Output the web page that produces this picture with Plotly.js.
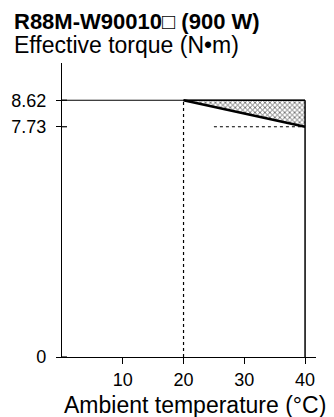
<!DOCTYPE html>
<html><head><meta charset="utf-8">
<script src="https://cdn.plot.ly/plotly-3.0.1.min.js"></script>
<style>html,body{margin:0;padding:0;background:#fff}</style>
</head><body><div id="chart" style="width:334px;height:417px"></div>
<script>
const temps = [20, 40];
const ratedTorque = [8.62, 8.62];
const deratedTorque = [8.62, 7.73];
const fullTemps = [0, 40];
const xTickVals = [10, 20, 30, 40];
const xTickText = ['10', '20', '30', '40'];
const yTickVals = [0, 7.73, 8.62];
const yTickText = ['0', '7.73', '8.62'];
const dottedX = [25, 40];
const limitTemp = 40;
const refTemp = 20;

const traces = [
  {x: temps, y: ratedTorque, mode: 'lines', line: {color: '#000', width: 1.5}, hoverinfo: 'skip'},
  {x: temps, y: deratedTorque, mode: 'lines', line: {color: '#000', width: 2.5}, fill: 'tonexty',
   fillcolor: 'rgba(0,0,0,0)', fillpattern: {shape: 'x', size: 3.5, solidity: 0.4, fgcolor: '#555', bgcolor: '#fff'}},
  {x: fullTemps, y: [ratedTorque[0], ratedTorque[0]], mode: 'lines', line: {color: '#000', width: 1.2}},
  {x: [limitTemp, limitTemp], y: [0, ratedTorque[0]], mode: 'lines', line: {color: '#000', width: 1.5}},
  {x: [refTemp, refTemp], y: [0, ratedTorque[0]], mode: 'lines', line: {color: '#000', width: 1.2, dash: 'dot'}},
  {x: dottedX, y: [deratedTorque[1], deratedTorque[1]], mode: 'lines', line: {color: '#000', width: 1.2, dash: 'dot'}}
];

const pw = 334 - 62 - 18, ph = 417 - 63 - 60;
function px(x) { return (x - 62) / pw; }
function py(y) { return (417 - 60 - y) / ph; }

const tickFont = {size: 18, family: 'Liberation Sans, Arial, sans-serif', color: '#000'};
const layout = {
  width: 334, height: 417,
  margin: {l: 62, r: 18, t: 63, b: 60},
  paper_bgcolor: '#fff', plot_bgcolor: '#fff',
  showlegend: false,
  font: {family: 'Liberation Sans, Arial, sans-serif', color: '#000'},
  xaxis: {range: [0, 41.8], tickvals: xTickVals, ticktext: xTickText, showgrid: false, zeroline: false,
    showline: true, linecolor: '#000', linewidth: 1.2, ticks: 'outside', ticklen: 6, tickcolor: '#000',
    tickfont: tickFont, ticklabelstandoff: 0, fixedrange: true},
  yaxis: {range: [0, 9.87], tickvals: yTickVals, ticktext: yTickText, showgrid: false, zeroline: false,
    showline: true, linecolor: '#000', linewidth: 1.2, ticks: 'outside', ticklen: 5, tickcolor: '#000',
    tickfont: tickFont, ticklabelstandoff: 6, fixedrange: true},
  shapes: yTickVals.map(v => ({type: 'line', xref: 'paper', yref: 'y', x0: 0, x1: 5 / pw, y0: v, y1: v,
    line: {color: '#000', width: 1.2}})),
  annotations: [
    {text: '<b>R88M-W90010□ (900 W)</b>', xref: 'paper', yref: 'paper', x: px(12), y: py(21.5), xanchor: 'left', yanchor: 'middle',
     showarrow: false, font: {size: 22}},
    {text: 'Effective torque (N•m)', xref: 'paper', yref: 'paper', x: px(12), y: py(45), xanchor: 'left', yanchor: 'middle',
     showarrow: false, font: {size: 23}},
    {text: 'Ambient temperature (°C)', xref: 'paper', yref: 'paper', x: px(195), y: py(404.5), xanchor: 'center', yanchor: 'middle',
     showarrow: false, font: {size: 23}}
  ]
};
Plotly.newPlot('chart', traces, layout, {staticPlot: true});
</script></body></html>
